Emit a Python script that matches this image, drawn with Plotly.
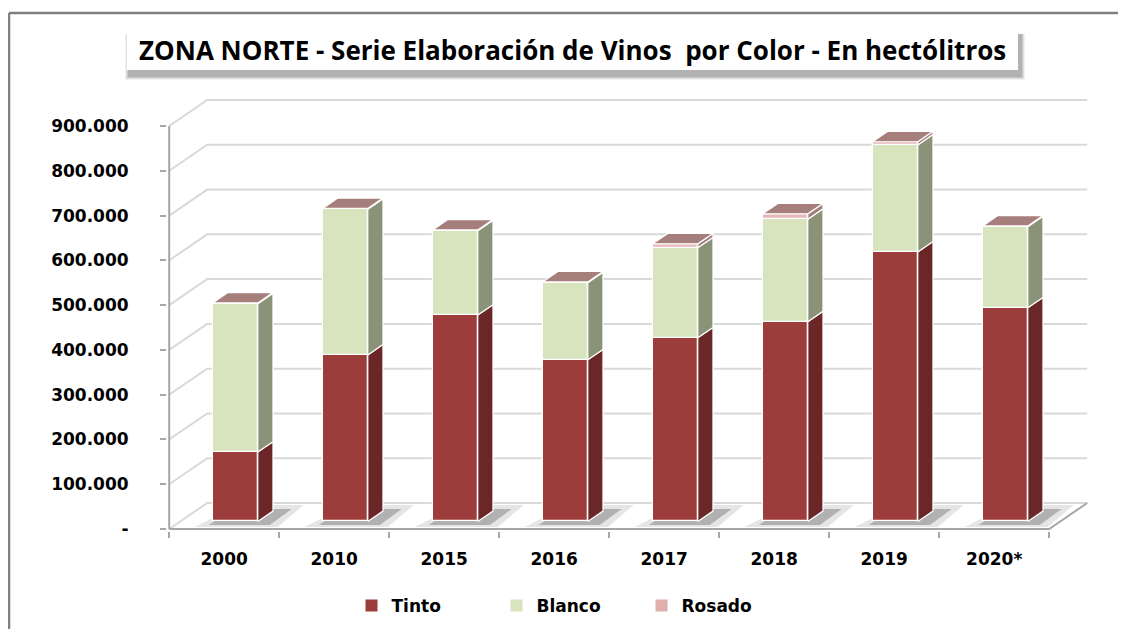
import plotly.graph_objects as go

# ---------------- data ----------------
categories = ["2000", "2010", "2015", "2016", "2017", "2018", "2019", "2020*"]
tinto = [155000, 372000, 461000, 361000, 410000, 446000, 602000, 477000]
blanco = [331000, 325000, 188000, 172000, 201000, 229000, 239000, 181000]
rosado = [2000, 2000, 2000, 2000, 9000, 12000, 7000, 2000]
series_names = ["Tinto", "Blanco", "Rosado"]
y_tickvals = [0, 100000, 200000, 300000, 400000, 500000, 600000, 700000, 800000, 900000]
y_ticktext = ["-", "100.000", "200.000", "300.000", "400.000", "500.000",
              "600.000", "700.000", "800.000", "900.000"]
title_text = "ZONA NORTE - Serie Elaboración de Vinos  por Color - En hectólitros"

# ---------------- style / geometry ----------------
OFF = 8                                    # page body margin
W, H = 1110, 621
L, T, PW, PH = 167 - OFF, 92 - OFF, 926, 439   # plot area in figure px
PX_X = 110.0                               # px per category
X0 = -0.02
X1 = X0 + PW / PX_X
PX_Y = 403.0 / 900000                      # px per hl
Y0 = -2.0 / PX_Y
Y1 = Y0 + PH / PX_Y

DX = 38 / PX_X          # full depth offset (data units)
DY = 26 / PX_Y
F0 = 0.29               # depth of bar front face
FD = 0.40               # bar depth
BW = 0.41               # bar width

front_cols = ["#9C3D3C", "#D7E4BD", "#E6B8B7"]
side_cols = ["#6B2628", "#8A9378", "#A37E7C"]
top_cols = ["#7E3030", "#AEB996", "#A67F7C"]
legend_cols = ["#9C3D3C", "#D7E4BD", "#E0AEAD"]
GRID = "#D9D9D9"
AXIS = "#A6A6A6"
FONT = "DejaVu Sans"

def pxx(px):
    return px / PX_X

def pxy(px):
    return px / PX_Y

def paper_x(px):      # page px -> paper
    return (px - OFF - L) / PW

def paper_y(py):
    return (T + PH - (py - OFF)) / PH

series = [tinto, blanco, rosado]
n = len(categories)

fig = go.Figure()
shapes = []

# back wall gridlines with diagonal connectors
for v in y_tickvals:
    shapes.append(dict(type="path", xref="x", yref="y", layer="below",
                       path=f"M 0 {v} L {DX} {v + DY} L {n + DX} {v + DY}",
                       line=dict(color=GRID, width=2)))
# floor front line + right diagonal
shapes.append(dict(type="path", xref="x", yref="y", layer="below",
                   path=f"M 0 0 L {n} 0 L {n + DX} {DY}",
                   line=dict(color=AXIS, width=2)))
# front vertical axis
shapes.append(dict(type="line", xref="x", yref="y", layer="below",
                   x0=0, y0=0, x1=0, y1=y_tickvals[-1],
                   line=dict(color=AXIS, width=2)))

# shadows
for i in range(n):
    xl = i + 0.5 - BW / 2 + F0 * DX
    xr = xl + BW
    shapes.append(dict(type="path", xref="x", yref="y", layer="below",
                       path=(f"M {xl - pxx(18)} {pxy(2)} L {xr + pxx(20)} {pxy(2)} "
                             f"L {xr + pxx(46)} {pxy(24)} L {xl + pxx(26)} {pxy(24)} Z"),
                       fillcolor="rgba(170,170,170,0.30)", line=dict(width=0)))
    shapes.append(dict(type="path", xref="x", yref="y", layer="below",
                       path=(f"M {xl - pxx(4)} {pxy(4)} L {xr + pxx(12)} {pxy(4)} "
                             f"L {xr + pxx(34)} {pxy(20)} L {xl + pxx(20)} {pxy(20)} Z"),
                       fillcolor="rgba(100,100,100,0.40)", line=dict(width=0)))

# bars: front faces, sides, tops
base0 = F0 * DY
cum = [base0] * n
xc = [i + 0.5 + F0 * DX for i in range(n)]
side_x = [[], [], []]
side_y = [[], [], []]
for s, vals in enumerate(series):
    fig.add_trace(go.Bar(x=xc, y=vals, base=cum[:], width=BW,
                         marker=dict(color=front_cols[s], line=dict(color="white", width=1.3)),
                         name=series_names[s], showlegend=False, hoverinfo="skip"))
    for i in range(n):
        xr = xc[i] + BW / 2
        lo, hi = cum[i], cum[i] + vals[i]
        side_x[s] += [xr, xr + FD * DX, xr + FD * DX, xr, xr, None]
        side_y[s] += [lo, lo + FD * DY, hi + FD * DY, hi, lo, None]
    cum = [cum[i] + vals[i] for i in range(n)]

for s in range(3):
    fig.add_trace(go.Scatter(x=side_x[s], y=side_y[s], mode="lines", fill="toself",
                             fillcolor=side_cols[s], line=dict(color="white", width=1.2),
                             showlegend=False, hoverinfo="skip"))

top_x, top_y = [], []
for i in range(n):
    xl = xc[i] - BW / 2
    xr = xc[i] + BW / 2
    t = cum[i]
    top_x += [xl, xr, xr + FD * DX, xl + FD * DX, xl, None]
    top_y += [t, t, t + FD * DY, t + FD * DY, t, None]
fig.add_trace(go.Scatter(x=top_x, y=top_y, mode="lines", fill="toself",
                         fillcolor=top_cols[2], line=dict(color="white", width=1.2),
                         showlegend=False, hoverinfo="skip"))

# legend entries
for s in range(3):
    fig.add_trace(go.Bar(x=[None], y=[None], name=series_names[s],
                         marker=dict(color=legend_cols[s], line=dict(width=0))))

# title box with soft shadow
for k, op in enumerate([0.08, 0.12, 0.16, 0.20]):
    d = 4 - k
    shapes.append(dict(type="rect", xref="paper", yref="paper", layer="above",
                       x0=paper_x(129 - d), x1=paper_x(1021 + d),
                       y0=paper_y(76 + d), y1=paper_y(34),
                       fillcolor=f"rgba(90,90,90,{op})", line=dict(width=0)))
shapes.append(dict(type="rect", xref="paper", yref="paper", layer="above",
                   x0=paper_x(127), x1=paper_x(1018), y0=paper_y(70), y1=paper_y(30),
                   fillcolor="white", line=dict(width=0)))
# outer chart border
shapes.append(dict(type="line", xref="paper", yref="paper", layer="above",
                   x0=paper_x(9), x1=paper_x(1130), y0=paper_y(13), y1=paper_y(13),
                   line=dict(color="#808080", width=2.5)))
shapes.append(dict(type="line", xref="paper", yref="paper", layer="above",
                   x0=paper_x(9), x1=paper_x(9), y0=paper_y(13), y1=paper_y(640),
                   line=dict(color="#808080", width=2.5)))

fig.update_layout(
    width=W, height=H,
    margin=dict(l=L, r=W - L - PW, t=T, b=H - T - PH, autoexpand=False),
    paper_bgcolor="white", plot_bgcolor="white",
    barmode="overlay", bargap=0,
    shapes=shapes,
    showlegend=True,
    legend=dict(orientation="h", x=paper_x(569), xanchor="center",
                y=paper_y(606), yanchor="middle",
                font=dict(family=FONT, size=17, color="black", weight="bold"),
                entrywidth=100, itemwidth=30, traceorder="normal"),
    annotations=[dict(text="<b>" + title_text + "</b>", xref="paper", yref="paper",
                      x=paper_x(572), y=paper_y(50), xanchor="center", yanchor="middle",
                      showarrow=False, font=dict(family="Open Sans", size=26, color="black"))],
    xaxis=dict(range=[X0, X1], showgrid=False, zeroline=False, showline=False,
               automargin=False,
               tickmode="array", tickvals=[i + 0.5 for i in range(n)], ticktext=categories,
               ticks="", ticklabelstandoff=16,
               tickfont=dict(family=FONT, size=17, color="black", weight="bold"),
               minor=dict(tickmode="array", tickvals=list(range(n + 1)), ticks="outside",
                          ticklen=6, tickwidth=2, tickcolor=AXIS, showgrid=False),
               fixedrange=True),
    yaxis=dict(range=[Y0, Y1], showgrid=False, zeroline=False, showline=False,
               automargin=False,
               tickmode="array", tickvals=y_tickvals, ticktext=y_ticktext,
               ticks="outside", ticklen=6, tickwidth=2, tickcolor=AXIS,
               ticklabelstandoff=28,
               tickfont=dict(family=FONT, size=17, color="black", weight="bold"),
               fixedrange=True),
)

fig.write_html("out.html")
